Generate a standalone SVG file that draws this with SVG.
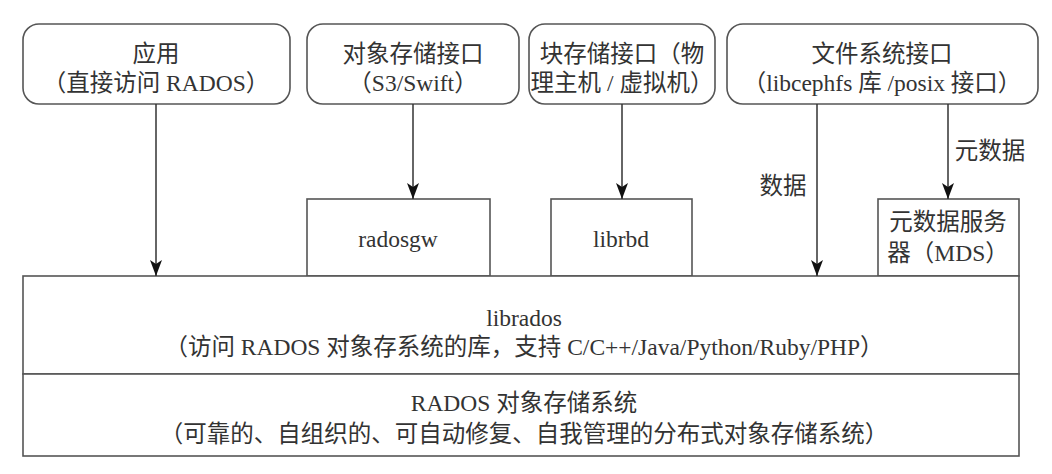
<svg xmlns="http://www.w3.org/2000/svg" width="1052" height="474" viewBox="0 0 1052 474">
<style>
.box{fill:#fff;stroke:#555;stroke-width:1.6}
.t{font-family:"Liberation Serif","Noto Sans CJK SC",serif;font-size:23.5px;fill:#333;text-anchor:middle}
.c{stroke:#333;stroke-width:1.5;fill:none}
</style>
<defs>
<marker id="ah" markerUnits="userSpaceOnUse" markerWidth="16" markerHeight="12" refX="16" refY="6" orient="auto" viewBox="0 0 16 12">
<path d="M0,0 L4,6 L0,12 L16,6 Z" fill="#111"/>
</marker>
</defs>
<rect width="1052" height="474" fill="#fff"/>
<g id="app"><rect class="box" x="23" y="24" width="267" height="80" rx="16"/>
<text class="t" x="156" y="62">应用</text><text class="t" x="156" y="91">（直接访问 RADOS）</text></g>
<g id="s3"><rect class="box" x="307" y="24" width="212" height="80" rx="16"/>
<text class="t" x="413" y="62">对象存储接口</text><text class="t" x="413" y="91">（S3/Swift）</text></g>
<g id="block"><rect class="box" x="529" y="24" width="186" height="80" rx="16"/>
<text class="t" x="622" y="62">块存储接口（物</text><text class="t" x="622" y="91">理主机 / 虚拟机）</text></g>
<g id="fs"><rect class="box" x="727" y="24" width="311" height="80" rx="16"/>
<text class="t" x="882" y="62">文件系统接口</text><text class="t" x="882" y="91">（libcephfs 库 /posix 接口）</text></g>
<g id="radosgw"><rect class="box" x="307" y="199" width="183" height="77"/>
<text class="t" x="398" y="247">radosgw</text></g>
<g id="librbd"><rect class="box" x="551" y="199" width="141" height="77"/>
<text class="t" x="621" y="247">librbd</text></g>
<g id="mds"><rect class="box" x="878" y="199" width="141" height="77"/>
<text class="t" x="948" y="230">元数据服务</text><text class="t" x="948" y="261">器（MDS）</text></g>
<g id="librados"><rect class="box" x="23" y="276" width="996" height="98"/>
<text class="t" x="524" y="326">librados</text><text class="t" x="524" y="355">（访问 RADOS 对象存系统的库，支持 C/C++/Java/Python/Ruby/PHP）</text></g>
<g id="rados"><rect class="box" x="23" y="374" width="996" height="82"/>
<text class="t" x="524" y="411">RADOS 对象存储系统</text><text class="t" x="524" y="442">（可靠的、自组织的、可自动修复、自我管理的分布式对象存储系统）</text></g>
<g id="connectors">
<line class="c" x1="156" y1="104" x2="156" y2="276" marker-end="url(#ah)"/>
<line class="c" x1="413" y1="104" x2="413" y2="199" marker-end="url(#ah)"/>
<line class="c" x1="622" y1="104" x2="622" y2="199" marker-end="url(#ah)"/>
<line class="c" x1="817" y1="104" x2="817" y2="276" marker-end="url(#ah)"/>
<line class="c" x1="948" y1="104" x2="948" y2="199" marker-end="url(#ah)"/>
<text class="t" x="783" y="194">数据</text>
<text class="t" x="990" y="159">元数据</text>
</g>
</svg>
